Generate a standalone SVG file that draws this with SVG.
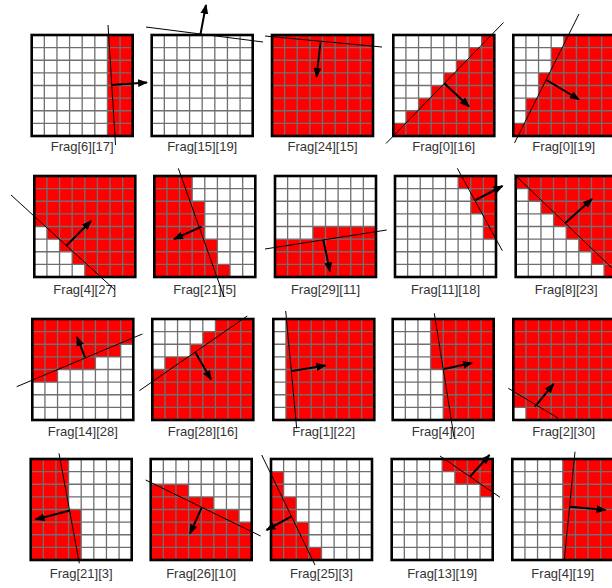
<svg xmlns="http://www.w3.org/2000/svg" xmlns:xlink="http://www.w3.org/1999/xlink" width="612" height="588" viewBox="0 0 612 588">
<style>
.wh{fill:#fff}
.rd{fill:#ff0000}
.gl{fill:none;stroke:#6f6f6f;stroke-width:1.3}
.bd{fill:none;stroke:#000;stroke-width:2.6}
.lb{font-family:"Liberation Sans",Arial,sans-serif;font-size:13px;fill:#333;text-anchor:middle}
.ln{stroke:#000;stroke-width:1;fill:none}
.ar{stroke:#000;stroke-width:2;fill:none;marker-end:url(#ah)}
</style>
<defs>
<marker id="ah" markerUnits="userSpaceOnUse" markerWidth="11" markerHeight="9" refX="9" refY="4" orient="auto">
<path d="M0,0 L10,4 L0,8 Z" fill="#000"/>
</marker>
<g id="gl">
<path class="gl" d="M12.625 0V101M25.25 0V101M37.875 0V101M50.5 0V101M63.125 0V101M75.75 0V101M88.375 0V101M0 12.625H101M0 25.25H101M0 37.875H101M0 50.5H101M0 63.125H101M0 75.75H101M0 88.375H101"/>
<rect class="bd" width="101" height="101"/>
</g>
</defs>
<rect width="612" height="588" fill="#fff"/>

<!-- Row 1 -->
<g id="frag-6-17" transform="translate(31.7,35)">
<rect class="wh" width="101" height="101"/>
<path class="rd" transform="scale(12.625)" d="M6,0H8V8H6Z"/>
<use xlink:href="#gl"/>
<text class="lb" x="50.5" y="115.5">Frag[6][17]</text>
</g>
<g id="frag-15-19" transform="translate(151.7,35)">
<rect class="wh" width="101" height="101"/>
<use xlink:href="#gl"/>
<text class="lb" x="50.5" y="115.5">Frag[15][19]</text>
</g>
<g id="frag-24-15" transform="translate(272,35)">
<rect class="wh" width="101" height="101"/>
<path class="rd" transform="scale(12.625)" d="M0,0H8V8H0Z"/>
<use xlink:href="#gl"/>
<text class="lb" x="50.5" y="115.5">Frag[24][15]</text>
</g>
<g id="frag-0-16" transform="translate(393.3,35)">
<rect class="wh" width="101" height="101"/>
<path class="rd" transform="scale(12.625)" d="M8,0L7,0L7,1L6,1L6,2L5,2L5,3L4,3L4,4L3,4L3,5L2,5L2,6L1,6L1,7L0,7L0,8L8,8Z"/>
<use xlink:href="#gl"/>
<text class="lb" x="50.5" y="115.5">Frag[0][16]</text>
</g>
<g id="frag-0-19" transform="translate(513.3,35)">
<rect class="wh" width="101" height="101"/>
<path class="rd" transform="scale(12.625)" d="M8,0L4,0L4,1L3,1L3,3L2,3L2,5L1,5L1,7L0,7L0,8L8,8Z"/>
<use xlink:href="#gl"/>
<text class="lb" x="50.5" y="115.5">Frag[0][19]</text>
</g>

<!-- Row 2 -->
<g id="frag-4-27" transform="translate(34.3,176)">
<rect class="wh" width="101" height="101"/>
<path class="rd" transform="scale(12.625)" d="M0,0L8,0L8,8L4,8L4,7L3,7L3,6L2,6L2,5L1,5L1,4L0,4Z"/>
<use xlink:href="#gl"/>
<text class="lb" x="50.5" y="118">Frag[4][27]</text>
</g>
<g id="frag-21-5" transform="translate(154.3,176)">
<rect class="wh" width="101" height="101"/>
<path class="rd" transform="scale(12.625)" d="M0,0L3,0L3,2L4,2L4,5L5,5L5,7L6,7L6,8L0,8Z"/>
<use xlink:href="#gl"/>
<text class="lb" x="50.5" y="118">Frag[21][5]</text>
</g>
<g id="frag-29-11" transform="translate(275,176)">
<rect class="wh" width="101" height="101"/>
<path class="rd" transform="scale(12.625)" d="M3,4L8,4L8,8L0,8L0,5L3,5Z"/>
<use xlink:href="#gl"/>
<text class="lb" x="50.5" y="118">Frag[29][11]</text>
</g>
<g id="frag-11-18" transform="translate(395,176)">
<rect class="wh" width="101" height="101"/>
<path class="rd" transform="scale(12.625)" d="M5,0L8,0L8,5L7,5L7,3L6,3L6,1L5,1Z"/>
<use xlink:href="#gl"/>
<text class="lb" x="50.5" y="118">Frag[11][18]</text>
</g>
<g id="frag-8-23" transform="translate(515.7,176)">
<rect class="wh" width="101" height="101"/>
<path class="rd" transform="scale(12.625)" d="M0,0L8,0L8,8L7,8L7,7L6,7L6,6L5,6L5,5L4,5L4,4L3,4L3,3L2,3L2,2L1,2L1,1L0,1Z"/>
<use xlink:href="#gl"/>
<text class="lb" x="50.5" y="118">Frag[8][23]</text>
</g>

<!-- Row 3 -->
<g id="frag-14-28" transform="translate(32.3,319)">
<rect class="wh" width="101" height="101"/>
<path class="rd" transform="scale(12.625)" d="M0,0L8,0L8,2L7,2L7,3L5,3L5,4L2,4L2,5L0,5Z"/>
<use xlink:href="#gl"/>
<text class="lb" x="50.5" y="116.5">Frag[14][28]</text>
</g>
<g id="frag-28-16" transform="translate(152.3,319)">
<rect class="wh" width="101" height="101"/>
<path class="rd" transform="scale(12.625)" d="M5,0L8,0L8,8L0,8L0,4L1,4L1,3L3,3L3,2L4,2L4,1L5,1Z"/>
<use xlink:href="#gl"/>
<text class="lb" x="50.5" y="116.5">Frag[28][16]</text>
</g>
<g id="frag-1-22" transform="translate(273.3,319)">
<rect class="wh" width="101" height="101"/>
<path class="rd" transform="scale(12.625)" d="M1,0H8V8H1Z"/>
<use xlink:href="#gl"/>
<text class="lb" x="50.5" y="116.5">Frag[1][22]</text>
</g>
<g id="frag-4-20" transform="translate(392.7,319)">
<rect class="wh" width="101" height="101"/>
<path class="rd" transform="scale(12.625)" d="M3,0L8,0L8,8L4,8L4,4L3,4Z"/>
<use xlink:href="#gl"/>
<text class="lb" x="50.5" y="116.5">Frag[4][20]</text>
</g>
<g id="frag-2-30" transform="translate(513.3,319)">
<rect class="wh" width="101" height="101"/>
<path class="rd" transform="scale(12.625)" d="M0,0L8,0L8,8L1,8L1,7L0,7Z"/>
<use xlink:href="#gl"/>
<text class="lb" x="50.5" y="116.5">Frag[2][30]</text>
</g>

<!-- Row 4 -->
<g id="frag-21-3" transform="translate(30.7,459)">
<rect class="wh" width="101" height="101"/>
<path class="rd" transform="scale(12.625)" d="M0,0L3,0L3,4L4,4L4,8L0,8Z"/>
<use xlink:href="#gl"/>
<text class="lb" x="50.5" y="118.5">Frag[21][3]</text>
</g>
<g id="frag-26-10" transform="translate(150.7,459)">
<rect class="wh" width="101" height="101"/>
<path class="rd" transform="scale(12.625)" d="M0,2L3,2L3,3L5,3L5,4L7,4L7,5L8,5L8,8L0,8Z"/>
<use xlink:href="#gl"/>
<text class="lb" x="50.5" y="118.5">Frag[26][10]</text>
</g>
<g id="frag-25-3" transform="translate(271,459)">
<rect class="wh" width="101" height="101"/>
<path class="rd" transform="scale(12.625)" d="M0,1L1,1L1,3L2,3L2,5L3,5L3,7L4,7L4,8L0,8Z"/>
<use xlink:href="#gl"/>
<text class="lb" x="50.5" y="118.5">Frag[25][3]</text>
</g>
<g id="frag-13-19" transform="translate(391.7,459)">
<rect class="wh" width="101" height="101"/>
<path class="rd" transform="scale(12.625)" d="M4,0L8,0L8,3L7,3L7,2L5,2L5,1L4,1Z"/>
<use xlink:href="#gl"/>
<text class="lb" x="50.5" y="118.5">Frag[13][19]</text>
</g>
<g id="frag-4-19" transform="translate(512.3,459)">
<rect class="wh" width="101" height="101"/>
<path class="rd" transform="scale(12.625)" d="M4,0H8V8H4Z"/>
<use xlink:href="#gl"/>
<text class="lb" x="50.5" y="118.5">Frag[4][19]</text>
</g>

<g id="connectors">
<line class="ln" x1="108" y1="25" x2="115.5" y2="145"/>
<line class="ar" x1="111.5" y1="85" x2="147" y2="82.5"/>
<line class="ln" x1="146" y1="27" x2="263" y2="42"/>
<line class="ar" x1="200.5" y1="34" x2="206" y2="5"/>
<line class="ln" x1="265" y1="36" x2="382" y2="47"/>
<line class="ar" x1="320.5" y1="42.5" x2="316.5" y2="77"/>
<line class="ln" x1="386" y1="143.5" x2="503.5" y2="22.5"/>
<line class="ar" x1="444.5" y1="83.5" x2="469" y2="106.5"/>
<line class="ln" x1="514.5" y1="143" x2="579" y2="14"/>
<line class="ar" x1="546.5" y1="80" x2="579" y2="99.5"/>

<line class="ln" x1="11" y1="195" x2="115" y2="290"/>
<line class="ar" x1="66" y1="246" x2="91" y2="221"/>
<line class="ln" x1="178.3" y1="168.3" x2="224" y2="297"/>
<line class="ar" x1="201.7" y1="226.7" x2="174" y2="239"/>
<line class="ln" x1="265" y1="249" x2="386.7" y2="230"/>
<line class="ar" x1="323.3" y1="240" x2="330" y2="271.5"/>
<line class="ln" x1="457.3" y1="168.3" x2="502.3" y2="250.7"/>
<line class="ar" x1="475.7" y1="200" x2="502.5" y2="186"/>
<line class="ln" x1="514.5" y1="174.5" x2="612" y2="268"/>
<line class="ar" x1="565" y1="223.3" x2="592" y2="199"/>

<line class="ln" x1="16.7" y1="386.7" x2="142.3" y2="334"/>
<line class="ar" x1="85" y1="357.3" x2="77" y2="337"/>
<line class="ln" x1="139.3" y1="390.7" x2="247.3" y2="316"/>
<line class="ar" x1="195" y1="351.7" x2="211" y2="379.5"/>
<line class="ln" x1="285.7" y1="311" x2="296.7" y2="428.5"/>
<line class="ar" x1="291.7" y1="371" x2="325.5" y2="365.5"/>
<line class="ln" x1="434.3" y1="313.3" x2="454" y2="437"/>
<line class="ar" x1="444" y1="369" x2="472" y2="363"/>
<line class="ln" x1="508.3" y1="388.3" x2="558" y2="418"/>
<line class="ar" x1="535" y1="406.7" x2="553.5" y2="384"/>

<line class="ln" x1="59" y1="453.3" x2="79.3" y2="563.3"/>
<line class="ar" x1="69" y1="510.7" x2="35.5" y2="519.5"/>
<line class="ln" x1="145.7" y1="480" x2="260.7" y2="536"/>
<line class="ar" x1="201.7" y1="507.7" x2="190" y2="533.5"/>
<line class="ln" x1="261.7" y1="455" x2="315" y2="565"/>
<line class="ar" x1="291" y1="516.7" x2="266.5" y2="530"/>
<line class="ln" x1="440" y1="456" x2="500" y2="497.3"/>
<line class="ar" x1="470" y1="476.7" x2="489.5" y2="455"/>
<line class="ln" x1="575" y1="451.7" x2="564.3" y2="560"/>
<line class="ar" x1="570" y1="506.7" x2="605.5" y2="510"/>
</g>
</svg>
